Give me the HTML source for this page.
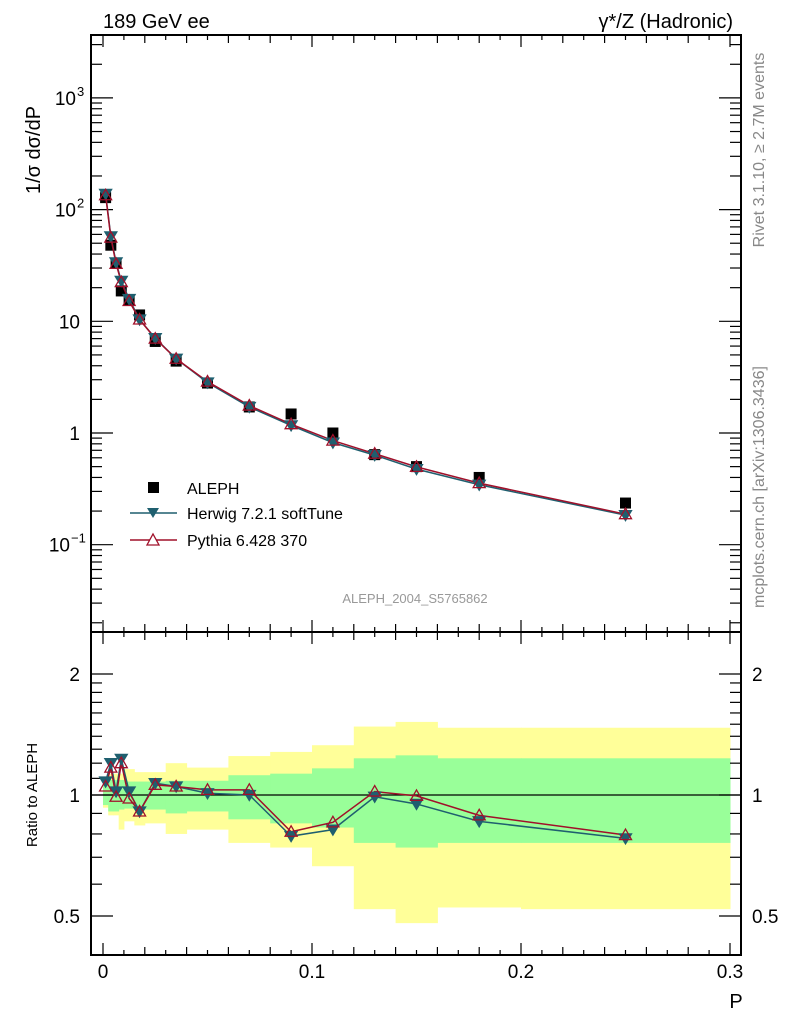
<!DOCTYPE html>
<html><head><meta charset="utf-8"><style>
html,body{margin:0;padding:0;background:#fff;}
svg{display:block;font-family:"Liberation Sans",sans-serif;}
</style></head><body>
<svg id="c" width="786" height="1024" viewBox="0 0 786 1024" xmlns="http://www.w3.org/2000/svg">
<text x="103" y="28" font-size="20">189 GeV ee</text>
<text x="733" y="28" font-size="20" text-anchor="end">γ*/Z (Hadronic)</text>
<text transform="translate(40,150) rotate(-90)" font-size="20" text-anchor="middle">1/σ  dσ/dP</text>
<text transform="translate(764,150) rotate(-90)" font-size="16" fill="#888" text-anchor="middle">Rivet 3.1.10, ≥ 2.7M events</text>
<text transform="translate(764,487) rotate(-90)" font-size="16" fill="#888" text-anchor="middle">mcplots.cern.ch [arXiv:1306.3436]</text>
<text x="415" y="603" font-size="13" fill="#999" text-anchor="middle">ALEPH_2004_S5765862</text>
<text transform="translate(37,795) rotate(-90)" font-size="15" text-anchor="middle">Ratio to ALEPH</text>
<text x="736" y="1008" font-size="20" text-anchor="middle">P</text>
<g id="legend">
<rect x="148" y="482" width="11" height="11" fill="#000"/>
<text x="187" y="494" font-size="16">ALEPH</text>
<line x1="130" y1="513" x2="177" y2="513" stroke="#1f5f6f" stroke-width="1.5"/>
<path d="M147,508 L159,508 L153,518 Z" fill="#1f5f6f"/>
<text x="187" y="519" font-size="16">Herwig 7.2.1 softTune</text>
<line x1="130" y1="540" x2="177" y2="540" stroke="#a0102a" stroke-width="1.5"/>
<path d="M147,545 L159,545 L153,534 Z" fill="#fff" stroke="#a0102a" stroke-width="1.3"/>
<text x="187" y="546" font-size="16">Pythia 6.428 370</text>
</g>
</svg>
<script>
const pCenters=[0.00125,0.00375,0.00625,0.00875,0.0125,0.0175,0.025,0.035,0.05,0.07,0.09,0.11,0.13,0.15,0.18,0.25];
const alephVals=[128,48,33,18.7,15.5,11.4,6.6,4.4,2.8,1.71,1.48,1.0,0.64,0.50,0.40,0.236];
const herwigRatio=[1.08,1.20,1.02,1.23,1.02,0.91,1.07,1.05,1.01,1.0,0.79,0.82,0.99,0.95,0.86,0.78];
const pythiaRatio=[1.05,1.17,0.99,1.20,0.98,0.91,1.06,1.05,1.03,1.03,0.81,0.855,1.02,0.995,0.89,0.795];
const binEdges=[0,0.0025,0.005,0.0075,0.01,0.015,0.02,0.03,0.04,0.06,0.08,0.1,0.12,0.14,0.16,0.2,0.3];
const yellowHi=[1.07,1.13,1.13,1.13,1.16,1.14,1.14,1.20,1.17,1.25,1.28,1.33,1.48,1.52,1.47,1.47];
const yellowLo=[0.93,0.89,0.89,0.82,0.86,0.84,0.85,0.80,0.82,0.76,0.74,0.665,0.52,0.48,0.525,0.52];
const greenHi=[1.06,1.09,1.09,1.09,1.08,1.08,1.08,1.085,1.085,1.12,1.13,1.165,1.234,1.255,1.234,1.234];
const greenLo=[0.944,0.91,0.91,0.92,0.925,0.925,0.92,0.90,0.91,0.87,0.85,0.83,0.76,0.74,0.76,0.76];
const xTickLabels=["0","0.1","0.2","0.3"];
const ns="http://www.w3.org/2000/svg";
const svg=document.getElementById('c');
const L=91,R=741,T1=35,B1=632,T2=632,B2=955;
const xs=p=>103+p*2090;
const ym=v=>433-111.7*Math.log10(v);
const yr=r=>795-121*Math.log2(r);
function mk(tag,attrs,parent){const e=document.createElementNS(ns,tag);for(const k in attrs)e.setAttribute(k,attrs[k]);(parent||svg).appendChild(e);return e;}
const bands=mk('g',{});


for(let i=0;i<binEdges.length-1;i++){
  const x1=xs(binEdges[i]),x2=xs(binEdges[i+1]);
  const yb=mk('rect',{x:x1,y:yr(yellowHi[i]),width:x2-x1+0.5,height:yr(yellowLo[i])-yr(yellowHi[i]),fill:'#ffff99'},bands);
  
  
}
for(let i=0;i<binEdges.length-1;i++){
  const x1=xs(binEdges[i]),x2=xs(binEdges[i+1]);
  const gb=mk('rect',{x:x1,y:yr(greenHi[i]),width:x2-x1+0.5,height:yr(greenLo[i])-yr(greenHi[i]),fill:'#99ff99'},bands);
  
  
}
mk('line',{x1:L,x2:R,y1:yr(1),y2:yr(1),stroke:'#000','stroke-width':1.2});
const f1=mk('rect',{x:L,y:T1,width:R-L,height:B1-T1,fill:'none',stroke:'#000','stroke-width':2});


const f2=mk('rect',{x:L,y:T2,width:R-L,height:B2-T2,fill:'none',stroke:'#000','stroke-width':2});


for(let k=0;k<=30;k++){
  const p=k*0.01,x=xs(p);const len=k%10==0?12:(k%2==0?8:5);
  [[B1,-1],[T1,1],[B2,-1],[T2,1]].forEach(([y,d])=>mk('line',{x1:x,x2:x,y1:y,y2:y+d*len,stroke:'#000','stroke-width':1.2}));
}
xTickLabels.forEach((t,i)=>{const e=mk('text',{x:xs(i*0.1),y:978,'font-size':19,'text-anchor':'middle'});e.textContent=t;

});
for(let d=-2;d<=3;d++){for(let m=1;m<10;m++){const v=m*Math.pow(10,d);const y=ym(v);if(y<T1||y>B1)continue;const len=m==1?22:11;
 mk('line',{x1:L,x2:L+len,y1:y,y2:y,stroke:'#000','stroke-width':1.2});mk('line',{x1:R,x2:R-len,y1:y,y2:y,stroke:'#000','stroke-width':1.2});}}
const yl=[[1000,'10','3'],[100,'10','2'],[10,'10',''],[1,'1',''],[0.1,'10','−1']];
yl.forEach(([v,b,s])=>{const e=mk('text',{x:s?(s.length>1?70:76):80,y:ym(v)+7,'font-size':19,'text-anchor':'end'});e.textContent=b;
 
 
 if(s){const t=mk('text',{x:s.length>1?71:77,y:ym(v)-2,'font-size':13});t.textContent=s;}});
[0.5,0.6,0.7,0.8,0.9,1,1.1,1.2,1.3,1.4,1.5,1.6,1.7,1.8,1.9,2].forEach(r=>{const y=yr(r);if(y<T2||y>B2)return;const len=(r==0.5||r==1||r==2)?22:11;
 mk('line',{x1:L,x2:L+len,y1:y,y2:y,stroke:'#000','stroke-width':1.2});mk('line',{x1:R,x2:R-len,y1:y,y2:y,stroke:'#000','stroke-width':1.2});});
[[0.5,'0.5'],[1,'1'],[2,'2']].forEach(([r,t])=>{const a=mk('text',{x:80,y:yr(r)+7,'font-size':19,'text-anchor':'end'});a.textContent=t;
 
 
 const b=mk('text',{x:752,y:yr(r)+7,'font-size':19});b.textContent=t;});
function tri(x,y,down,fill,stroke,name,parent){const s=6;const d=down?`M${x-s},${y-4.5} L${x+s},${y-4.5} L${x},${y+5.5} Z`:`M${x-s},${y+4.5} L${x+s},${y+4.5} L${x},${y-6} Z`;
 const e=mk('path',{d:d,fill:fill,stroke:stroke,'stroke-width':1.3},parent);
 
 }
const gM=mk('g',{});


pCenters.forEach((p,i)=>{const e=mk('rect',{x:xs(p)-5.5,y:ym(alephVals[i])-5.5,width:11,height:11,fill:'#000'},gM);
 
 });
const hPts=pCenters.map((p,i)=>[xs(p),ym(alephVals[i]*herwigRatio[i])]);
const pPts=pCenters.map((p,i)=>[xs(p),ym(alephVals[i]*pythiaRatio[i])]);
const hl=mk('polyline',{points:hPts.map(a=>a.join(',')).join(' '),fill:'none',stroke:'#1f5f6f','stroke-width':1.5},gM);


const pl=mk('polyline',{points:pPts.map(a=>a.join(',')).join(' '),fill:'none',stroke:'#a0102a','stroke-width':1.5},gM);


hPts.forEach(a=>tri(a[0],a[1],true,'#1f5f6f','#1f5f6f','herwig-point',gM));
pPts.forEach(a=>tri(a[0],a[1],false,'none','#a0102a','pythia-point',gM));
const gR=mk('g',{});


const hR=pCenters.map((p,i)=>[xs(p),yr(herwigRatio[i])]);
const pR=pCenters.map((p,i)=>[xs(p),yr(pythiaRatio[i])]);
const hrl=mk('polyline',{points:hR.map(a=>a.join(',')).join(' '),fill:'none',stroke:'#1f5f6f','stroke-width':1.5},gR);


const prl=mk('polyline',{points:pR.map(a=>a.join(',')).join(' '),fill:'none',stroke:'#a0102a','stroke-width':1.5},gR);


hR.forEach(a=>tri(a[0],a[1],true,'#1f5f6f','#1f5f6f','herwig-ratio-point',gR));
pR.forEach(a=>tri(a[0],a[1],false,'none','#a0102a','pythia-ratio-point',gR));
</script>
</body></html>
